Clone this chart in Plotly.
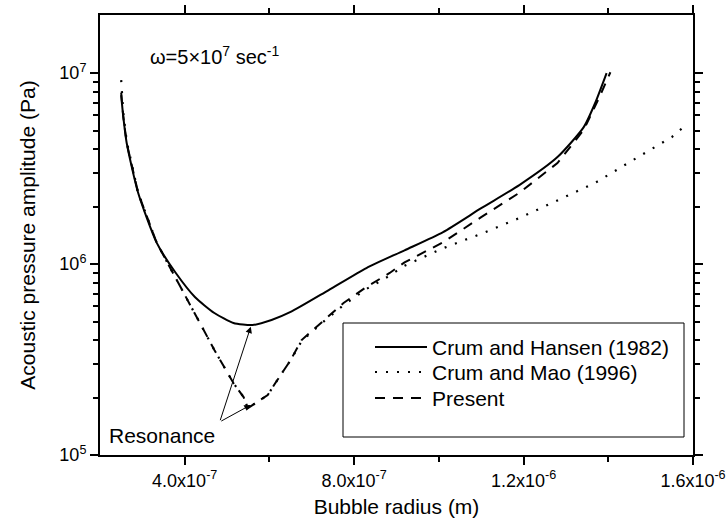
import numpy as np
import plotly.graph_objects as go

# Crum and Hansen (1982) - solid
R_hansen = [2.50e-7, 2.55e-7, 2.63e-7, 2.90e-7, 3.34e-7, 3.79e-7, 4.24e-7, 4.70e-7, 5.15e-7,
            5.60e-7, 6.05e-7, 6.50e-7, 7.40e-7, 8.29e-7, 9.19e-7, 1.01e-6, 1.10e-6, 1.19e-6,
            1.28e-6, 1.342e-6, 1.369e-6, 1.396e-6]
P_hansen = [7.67e6, 5.89e6, 4.30e6, 2.36e6, 1.29e6, 8.97e5, 6.72e5, 5.54e5, 4.91e5,
            4.79e5, 5.09e5, 5.61e5, 7.31e5, 9.53e5, 1.18e6, 1.47e6, 1.96e6, 2.59e6,
            3.63e6, 5.21e6, 6.97e6, 1.0e7]

# Crum and Mao (1996) - dotted
R_mao = [2.50e-7, 2.55e-7, 2.63e-7, 2.90e-7, 3.34e-7, 3.79e-7, 4.24e-7, 4.70e-7, 5.15e-7,
         5.39e-7, 5.49e-7, 5.96e-7, 6.14e-7, 6.50e-7, 6.76e-7, 7.21e-7, 7.75e-7, 8.29e-7,
         8.84e-7, 9.19e-7, 1.01e-6, 1.10e-6, 1.19e-6, 1.28e-6, 1.369e-6, 1.459e-6, 1.55e-6,
         1.586e-6]
P_mao = [9.18e6, 6.2e6, 4.4e6, 2.36e6, 1.29e6, 8.45e5, 5.54e5, 3.55e5, 2.38e5,
         2.01e5, 1.76e5, 2.06e5, 2.38e5, 3.14e5, 3.95e5, 4.85e5, 6.1e5, 7.4e5,
         8.7e5, 9.8e5, 1.21e6, 1.44e6, 1.74e6, 2.16e6, 2.66e6, 3.51e6, 4.62e6,
         5.41e6]

# Present - dashed
R_present = [2.50e-7, 2.55e-7, 2.63e-7, 2.90e-7, 3.34e-7, 3.79e-7, 4.24e-7, 4.70e-7, 5.15e-7,
             5.39e-7, 5.49e-7, 5.96e-7, 6.14e-7, 6.50e-7, 6.76e-7, 7.21e-7, 7.75e-7, 8.29e-7,
             8.84e-7, 9.19e-7, 1.01e-6, 1.10e-6, 1.19e-6, 1.28e-6, 1.342e-6, 1.379e-6, 1.405e-6]
P_present = [7.9e6, 5.9e6, 4.3e6, 2.36e6, 1.29e6, 8.45e5, 5.54e5, 3.55e5, 2.38e5,
             2.01e5, 1.76e5, 2.06e5, 2.38e5, 3.14e5, 4.00e5, 4.91e5, 6.25e5, 7.58e5,
             8.98e5, 1.02e6, 1.30e6, 1.76e6, 2.36e6, 3.38e6, 5.04e6, 7.48e6, 1.01e7]

x_tickvals = [4e-7, 8e-7, 1.2e-6, 1.6e-6]
x_ticktext = ["4.0x10<sup>-7</sup>", "8.0x10<sup>-7</sup>", "1.2x10<sup>-6</sup>", "1.6x10<sup>-6</sup>"]
x_minor = [6e-7, 1.0e-6, 1.4e-6]
y_tickvals = [1e5, 1e6, 1e7]
y_ticktext = ["10<sup>5</sup>", "10<sup>6</sup>", "10<sup>7</sup>"]
y_minor = [m * 10 ** e for e in (5, 6) for m in range(2, 10)]

legend_names = ["Crum and Hansen (1982)", "Crum and Mao (1996)", "Present"]
legend_dash = ["solid", "2px,9px", "10px,8px"]

FONT = "Liberation Sans, Arial, sans-serif"

fig = go.Figure()
fig.add_trace(go.Scatter(x=R_hansen, y=P_hansen, mode="lines", name=legend_names[0],
                         line=dict(color="black", width=2, dash=legend_dash[0], shape="spline", smoothing=0.6),
                         showlegend=False))
fig.add_trace(go.Scatter(x=R_mao, y=P_mao, mode="lines", name=legend_names[1],
                         line=dict(color="black", width=2.2, dash=legend_dash[1]),
                         showlegend=False))
fig.add_trace(go.Scatter(x=R_present, y=P_present, mode="lines", name=legend_names[2],
                         line=dict(color="black", width=2, dash=legend_dash[2]),
                         showlegend=False))

axis_common = dict(showline=True, linecolor="black", linewidth=2, mirror="allticks",
                   ticks="outside", ticklen=8, tickwidth=1.5, tickcolor="black",
                   showgrid=False, zeroline=False,
                   tickfont=dict(family=FONT, size=18, color="black"))

fig.update_xaxes(range=[2e-7, 1.6e-6], tickmode="array", tickvals=x_tickvals, ticktext=x_ticktext,
                 minor=dict(tickvals=x_minor, ticks="outside", ticklen=5, tickwidth=1.5, tickcolor="black"),
                 title=dict(text="Bubble radius (m)", font=dict(family=FONT, size=21, color="black"), standoff=10),
                 **axis_common)
fig.update_yaxes(type="log", range=[5, 7.304], tickmode="array", tickvals=y_tickvals, ticktext=y_ticktext,
                 minor=dict(tickvals=y_minor, ticks="outside", ticklen=5, tickwidth=1.5, tickcolor="black"),
                 title=dict(text="Acoustic pressure amplitude (Pa)", font=dict(family=FONT, size=21, color="black"), standoff=18),
                 **axis_common)

# plot area pixel geometry for paper placements
L, Rm, T, B = 100, 35, 15, 74
W, H = 728, 529
pw, ph = W - L - Rm, H - T - B
px = lambda v: (v - L) / pw
py = lambda v: (H - B - v) / ph

shapes = [dict(type="rect", xref="paper", yref="paper", x0=px(343), x1=px(684), y0=py(437), y1=py(323),
               line=dict(color="black", width=1), fillcolor="white", layer="above")]
annotations = []
rows = [347, 372, 398]
for name, dash, yy in zip(legend_names, legend_dash, rows):
    shapes.append(dict(type="line", xref="paper", yref="paper", x0=px(375), x1=px(427), y0=py(yy), y1=py(yy),
                       line=dict(color="black", width=2, dash=dash), layer="above"))
    annotations.append(dict(xref="paper", yref="paper", x=px(430), y=py(yy), xanchor="left", yanchor="middle",
                            text=name, showarrow=False, font=dict(family=FONT, size=21, color="black")))

annotations.append(dict(xref="paper", yref="paper", x=px(214), y=py(55), xanchor="center", yanchor="middle",
                        text="\u03c9=5\u00d710<sup>7</sup> sec<sup>-1</sup>", showarrow=False,
                        font=dict(family=FONT, size=20, color="black")))
annotations.append(dict(xref="paper", yref="paper", x=px(107), y=py(435), xanchor="left", yanchor="middle",
                        text="Resonance", showarrow=False, font=dict(family=FONT, size=21, color="black")))
# arrows
annotations.append(dict(x=5.56e-7, y=np.log10(4.70e5), xref="x", yref="y", ax=-31, ay=95, text="",
                        showarrow=True, arrowhead=2, arrowsize=1.3, arrowwidth=1, arrowcolor="black"))
annotations.append(dict(x=5.56e-7, y=np.log10(1.83e5), xref="x", yref="y", ax=-31, ay=17, text="",
                        showarrow=True, arrowhead=2, arrowsize=1.3, arrowwidth=1, arrowcolor="black"))

fig.update_layout(width=W, height=H, margin=dict(l=L, r=Rm, t=T, b=B, autoexpand=False),
                  paper_bgcolor="white", plot_bgcolor="white",
                  font=dict(family=FONT, color="black"),
                  shapes=shapes, annotations=annotations, showlegend=False)

fig.write_html("out.html")
